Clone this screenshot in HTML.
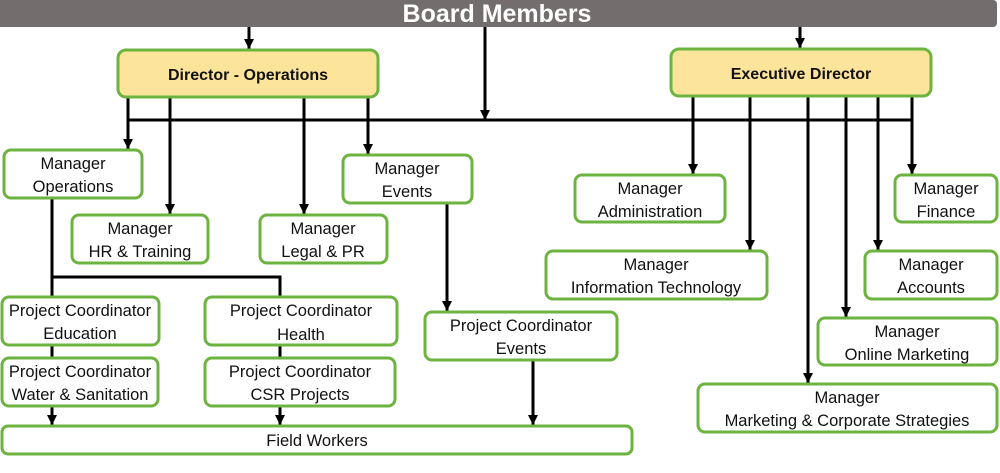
<!DOCTYPE html>
<html><head><meta charset="utf-8"><style>
html,body{margin:0;padding:0;background:#fff;}
svg{display:block;}
text{font-family:"Liberation Sans",sans-serif;fill:#111;}
</style></head><body>
<svg width="1000" height="473" viewBox="0 0 1000 473" xmlns="http://www.w3.org/2000/svg">
<defs><marker id="a" markerWidth="10" markerHeight="10" refX="10" refY="5" orient="auto" markerUnits="userSpaceOnUse"><path d="M0,0 L10,5 L0,10 z" fill="#000" stroke="none"/></marker></defs>
<rect x="-5" y="0" width="1002" height="27" rx="4" fill="#736d6d"/>
<text x="497" y="22" text-anchor="middle" font-size="25" font-weight="bold" style="fill:#fff">Board Members</text>
<g stroke="#000" stroke-width="3" fill="none">
<line x1="249" y1="27" x2="249" y2="49" marker-end="url(#a)"/>
<line x1="800" y1="27" x2="800" y2="48" marker-end="url(#a)"/>
<line x1="485" y1="27" x2="485" y2="120" marker-end="url(#a)"/>
<line x1="127" y1="120" x2="913" y2="120"/>
<line x1="128" y1="97" x2="128" y2="149" marker-end="url(#a)"/>
<line x1="170" y1="97" x2="170" y2="214" marker-end="url(#a)"/>
<line x1="304" y1="97" x2="304" y2="214" marker-end="url(#a)"/>
<line x1="368" y1="97" x2="368" y2="154" marker-end="url(#a)"/>
<line x1="693" y1="96" x2="693" y2="174" marker-end="url(#a)"/>
<line x1="750" y1="96" x2="750" y2="250" marker-end="url(#a)"/>
<line x1="808" y1="96" x2="808" y2="383" marker-end="url(#a)"/>
<line x1="846" y1="96" x2="846" y2="317" marker-end="url(#a)"/>
<line x1="878" y1="96" x2="878" y2="250" marker-end="url(#a)"/>
<line x1="912" y1="96" x2="912" y2="174" marker-end="url(#a)"/>
<polyline points="52,198 52,297"/>
<polyline points="52,277 280,277 280,297"/>
<line x1="52" y1="345" x2="52" y2="358"/>
<line x1="280" y1="345" x2="280" y2="358"/>
<line x1="52" y1="406" x2="52" y2="425" marker-end="url(#a)"/>
<line x1="280" y1="406" x2="280" y2="425" marker-end="url(#a)"/>
<line x1="447" y1="203" x2="447" y2="311" marker-end="url(#a)"/>
<line x1="533" y1="360" x2="533" y2="425" marker-end="url(#a)"/>
</g>
<g stroke="#6db33f" stroke-width="3">
<rect x="118" y="50" width="260" height="47" rx="8" fill="#fde49b"/>
<rect x="671" y="49" width="260" height="47" rx="8" fill="#fde49b"/>
<g fill="#fff">
<rect x="4" y="150" width="138" height="48" rx="7"/>
<rect x="72" y="215" width="136" height="48" rx="7"/>
<rect x="260" y="215" width="127" height="48" rx="7"/>
<rect x="343" y="155" width="129" height="48" rx="7"/>
<rect x="575" y="175" width="150" height="47" rx="7"/>
<rect x="546" y="251" width="221" height="48" rx="7"/>
<rect x="698" y="384" width="299" height="48" rx="7"/>
<rect x="818" y="318" width="179" height="47" rx="7"/>
<rect x="865" y="251" width="132" height="48" rx="7"/>
<rect x="895" y="175" width="102" height="47" rx="7"/>
<rect x="2" y="297" width="157" height="48" rx="7"/>
<rect x="205" y="297" width="192" height="48" rx="7"/>
<rect x="2" y="358" width="156" height="48" rx="7"/>
<rect x="205" y="358" width="190" height="48" rx="7"/>
<rect x="425" y="312" width="192" height="48" rx="7"/>
<rect x="2" y="426" width="630" height="28" rx="6"/>
</g></g>
<g font-size="16" text-anchor="middle" font-weight="bold">
<text x="248" y="80">Director - Operations</text>
<text x="801" y="79">Executive Director</text>
</g>
<g font-size="16.5" text-anchor="middle">
<text x="73" y="169">Manager</text><text x="73" y="192">Operations</text>
<text x="140" y="234">Manager</text><text x="140" y="257">HR &amp; Training</text>
<text x="323" y="234">Manager</text><text x="323" y="257">Legal &amp; PR</text>
<text x="407" y="174">Manager</text><text x="407" y="197">Events</text>
<text x="650" y="194">Manager</text><text x="650" y="217">Administration</text>
<text x="656" y="270">Manager</text><text x="656" y="293">Information Technology</text>
<text x="847" y="403">Manager</text><text x="847" y="426">Marketing &amp; Corporate Strategies</text>
<text x="907" y="337">Manager</text><text x="907" y="360">Online Marketing</text>
<text x="931" y="270">Manager</text><text x="931" y="293">Accounts</text>
<text x="946" y="194">Manager</text><text x="946" y="217">Finance</text>
<text x="80" y="316">Project Coordinator</text><text x="80" y="339">Education</text>
<text x="301" y="316">Project Coordinator</text><text x="301" y="340">Health</text>
<text x="80" y="377">Project Coordinator</text><text x="80" y="400">Water &amp; Sanitation</text>
<text x="300" y="377">Project Coordinator</text><text x="300" y="400">CSR Projects</text>
<text x="521" y="331">Project Coordinator</text><text x="521" y="354">Events</text>
<text x="317" y="446">Field Workers</text>
</g>
</svg>
</body></html>
